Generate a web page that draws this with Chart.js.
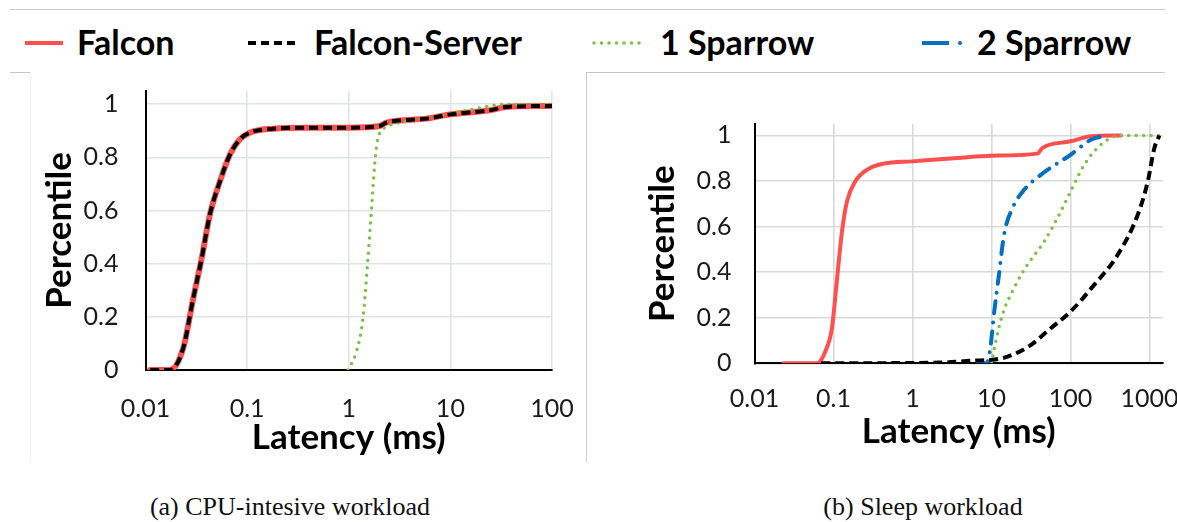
<!DOCTYPE html>
<html>
<head>
<meta charset="utf-8">
<script src="https://cdn.jsdelivr.net/npm/chart.js@4/dist/chart.umd.min.js"></script>
<style>
  html,body{margin:0;padding:0;background:#fff;}
  #page{position:relative;width:1177px;height:522px;overflow:hidden;font-family:Lato,"Noto Sans",sans-serif;}
  .ln{position:absolute;background:#c9c9c9;}
  .lg{position:absolute;top:22px;font-weight:bold;font-size:34px;line-height:40px;color:#000;white-space:nowrap;}
  .sw{position:absolute;top:37px;}
  .cap{position:absolute;top:492px;font-family:"Liberation Serif",serif;font-size:26px;line-height:30px;color:#111;white-space:nowrap;transform:translateX(-50%);}
  canvas{position:absolute;}
</style>
</head>
<body>
<div id="page">
  <div class="ln" style="left:10px;top:9px;width:1155px;height:1px;"></div>
  <div class="ln" style="left:10px;top:72px;width:20px;height:1px;"></div>
  <div class="ln" style="left:30px;top:72px;width:1px;height:390px;background:#f0f0f0;"></div>
  <div class="ln" style="left:586px;top:72px;width:579px;height:1px;"></div>
  <div class="ln" style="left:586px;top:72px;width:1px;height:390px;"></div>

  <svg class="sw" style="left:24px" width="40" height="12"><line x1="1" y1="6" x2="39" y2="6" stroke="#ff4f4f" stroke-width="4"/></svg>
  <div class="lg" style="left:77px">Falcon</div>
  <svg class="sw" style="left:247px" width="50" height="12"><line x1="1" y1="6" x2="49" y2="6" stroke="#000" stroke-width="4" stroke-dasharray="8 5"/></svg>
  <div class="lg" style="left:314px">Falcon-Server</div>
  <svg class="sw" style="left:590px" width="52" height="12"><line x1="4" y1="6" x2="50" y2="6" stroke="#7cc242" stroke-width="3.5" stroke-linecap="round" stroke-dasharray="0 7.5"/></svg>
  <div class="lg" style="left:660px">1 Sparrow</div>
  <svg class="sw" style="left:920px" width="46" height="12"><line x1="2" y1="6" x2="29" y2="6" stroke="#0070c0" stroke-width="4"/><circle cx="40" cy="6" r="2" fill="#0070c0"/></svg>
  <div class="lg" style="left:977px">2 Sparrow</div>

  <canvas id="cpu" width="585" height="395" style="left:0;top:75px;"></canvas>
  <canvas id="sleep" width="600" height="395" style="left:587px;top:75px;"></canvas>

  <div class="cap" style="left:290px">(a) CPU-intesive workload</div>
  <div class="cap" style="left:923px">(b) Sleep workload</div>
</div>
<script>
// axis ticks
const xTicksCpu=[0.01,0.1,1,10,100];
const xTicksSleep=[0.01,0.1,1,10,100,1000];
const yTicks=[0,0.2,0.4,0.6,0.8,1];

// (a) CPU-intensive workload, latency in ms / percentile
const cpuFalconX=[0.0111,0.0174,0.0235,0.0295,0.0357,0.043,0.054,0.0676,0.0848,0.106,0.18,0.383,1.0,2.01,2.34,5.78,10,24.2,35.3,100];
const cpuFalconY=[0,0,0.082,0.27,0.42,0.585,0.71,0.81,0.868,0.893,0.908,0.912,0.912,0.918,0.931,0.946,0.962,0.977,0.99,0.994];
const cpuServerX=[0.0111,0.0174,0.0235,0.0295,0.0357,0.043,0.054,0.0676,0.0848,0.106,0.18,0.383,1.0,2.01,2.34,5.78,10,24.2,35.3,100];
const cpuServerY=[0,0,0.082,0.27,0.42,0.585,0.71,0.81,0.868,0.893,0.908,0.912,0.912,0.918,0.931,0.946,0.962,0.977,0.99,0.994];
const cpuSparrow1X=[0.98,1.19,1.38,1.52,1.67,1.80,1.94,2.34,3.68,10,16.6,35.3,100];
const cpuSparrow1Y=[0,0.069,0.195,0.384,0.597,0.774,0.874,0.914,0.935,0.965,0.981,1.0,1.0];

// (b) Sleep workload
const sleepFalconX=[0.0232,0.0615,0.0785,0.0955,0.110,0.128,0.148,0.188,0.265,0.431,1.0,3.68,10,38.1,44.1,100,181,435];
const sleepFalconY=[0,0,0.051,0.154,0.359,0.578,0.71,0.798,0.849,0.876,0.886,0.901,0.911,0.92,0.945,0.974,0.996,1.0];
const sleepServerX=[0.07,2.26,5.98,10,15.9,31.3,56.2,100,199,395,709,949,1151,1331];
const sleepServerY=[0,0.003,0.012,0.015,0.029,0.08,0.154,0.227,0.344,0.476,0.652,0.798,0.945,1.0];
const sleepSparrow1X=[10,11.3,13.7,19.2,28.4,46.3,75.3,100,149,242,435,1331];
const sleepSparrow1Y=[0,0.095,0.212,0.33,0.432,0.534,0.666,0.754,0.871,0.959,1.0,1.0];
const sleepSparrow2X=[6.6,8.67,9.75,10.7,12.4,14.4,18.4,25.8,42,100,181,295];
const sleepSparrow2Y=[0,0,0.08,0.212,0.388,0.564,0.681,0.761,0.827,0.915,0.981,1.0];

const pts=(xs,ys)=>xs.map((x,i)=>({x,y:ys[i]}));
const base={pointRadius:0,fill:false,cubicInterpolationMode:'monotone',borderCapStyle:'round'};
const RED='#ff4f4f',GREEN='#7cc242',BLUE='#0070c0';
// drop the label overflow padding so the plot box sits where we want it
const noPad=s=>{s.paddingLeft=0;s.paddingRight=0;s.paddingTop=0;s.paddingBottom=0;};

function makeChart(id,o){
  new Chart(document.getElementById(id),{
    type:'line',
    data:{datasets:o.sets},
    options:{
      responsive:false,animation:false,
      layout:{padding:o.pad},
      plugins:{legend:{display:false},tooltip:{enabled:false}},
      scales:{
        x:{type:'logarithmic',min:0.01,max:o.xmax,
          afterBuildTicks:s=>{s.ticks=o.xticks.map(v=>({value:v}));},
          afterFit:s=>{s.height=o.xh;noPad(s);},
          ticks:{callback:v=>String(v),padding:o.xpad,color:'#1a1a1a',font:{family:'Lato',size:25},maxRotation:0,autoSkip:false},
          grid:{color:o.grid,lineWidth:1.6,drawTicks:false},
          border:{color:'#000',width:2},
          title:{display:true,text:'Latency (ms)',color:'#000',font:{family:'Lato',size:35,weight:'bold'},padding:{top:0,bottom:o.xtb}}},
        y:{min:0,max:1.05,
          afterBuildTicks:s=>{s.ticks=yTicks.map(v=>({value:v}));},
          afterFit:s=>{s.width=o.yw;noPad(s);},
          ticks:{callback:v=>String(v),padding:o.ypad,color:'#1a1a1a',font:{family:'Lato',size:25}},
          grid:{color:o.grid,lineWidth:1.6,drawTicks:false},
          border:{color:'#000',width:2},
          title:{display:true,text:'Percentile',color:'#000',font:{family:'Lato',size:35,weight:'bold'},padding:{top:o.ytp,bottom:0}}}
      }
    }
  });
}

makeChart('cpu',{
  xmax:100,xticks:xTicksCpu,grid:'#dfe3ea',
  pad:{top:16,right:33,bottom:0,left:0},xh:100,yw:145.5,
  xpad:24,ypad:27,xtb:11,ytp:39,
  sets:[
    {...base,label:'Falcon',data:pts(cpuFalconX,cpuFalconY),borderColor:RED,borderWidth:6,order:4},
    {...base,label:'1 Sparrow',data:pts(cpuSparrow1X,cpuSparrow1Y),borderColor:GREEN,borderWidth:3.5,borderDash:[0,7.5],order:3},
    {...base,label:'Falcon-Server',data:pts(cpuServerX,cpuServerY),borderColor:'#000',borderWidth:4,borderDash:[9,5],borderCapStyle:'butt',order:1}
  ]
});

makeChart('sleep',{
  xmax:1479,xticks:xTicksSleep,grid:'#d9d9d9',
  pad:{top:49,right:24,bottom:0,left:0},xh:106.7,yw:167.5,
  xpad:21,ypad:23,xtb:17,ytp:55,
  sets:[
    {...base,label:'Falcon',data:pts(sleepFalconX,sleepFalconY),borderColor:RED,borderWidth:4,order:4},
    {...base,label:'1 Sparrow',data:pts(sleepSparrow1X,sleepSparrow1Y),borderColor:GREEN,borderWidth:3.5,borderDash:[0,7.5],order:3},
    {...base,label:'2 Sparrow',data:pts(sleepSparrow2X,sleepSparrow2Y),borderColor:BLUE,borderWidth:4,borderDash:[12,9,0,9],order:2},
    {...base,label:'Falcon-Server',data:pts(sleepServerX,sleepServerY),borderColor:'#000',borderWidth:4,borderDash:[9,5],borderCapStyle:'butt',order:1}
  ]
});
</script>
</body>
</html>
